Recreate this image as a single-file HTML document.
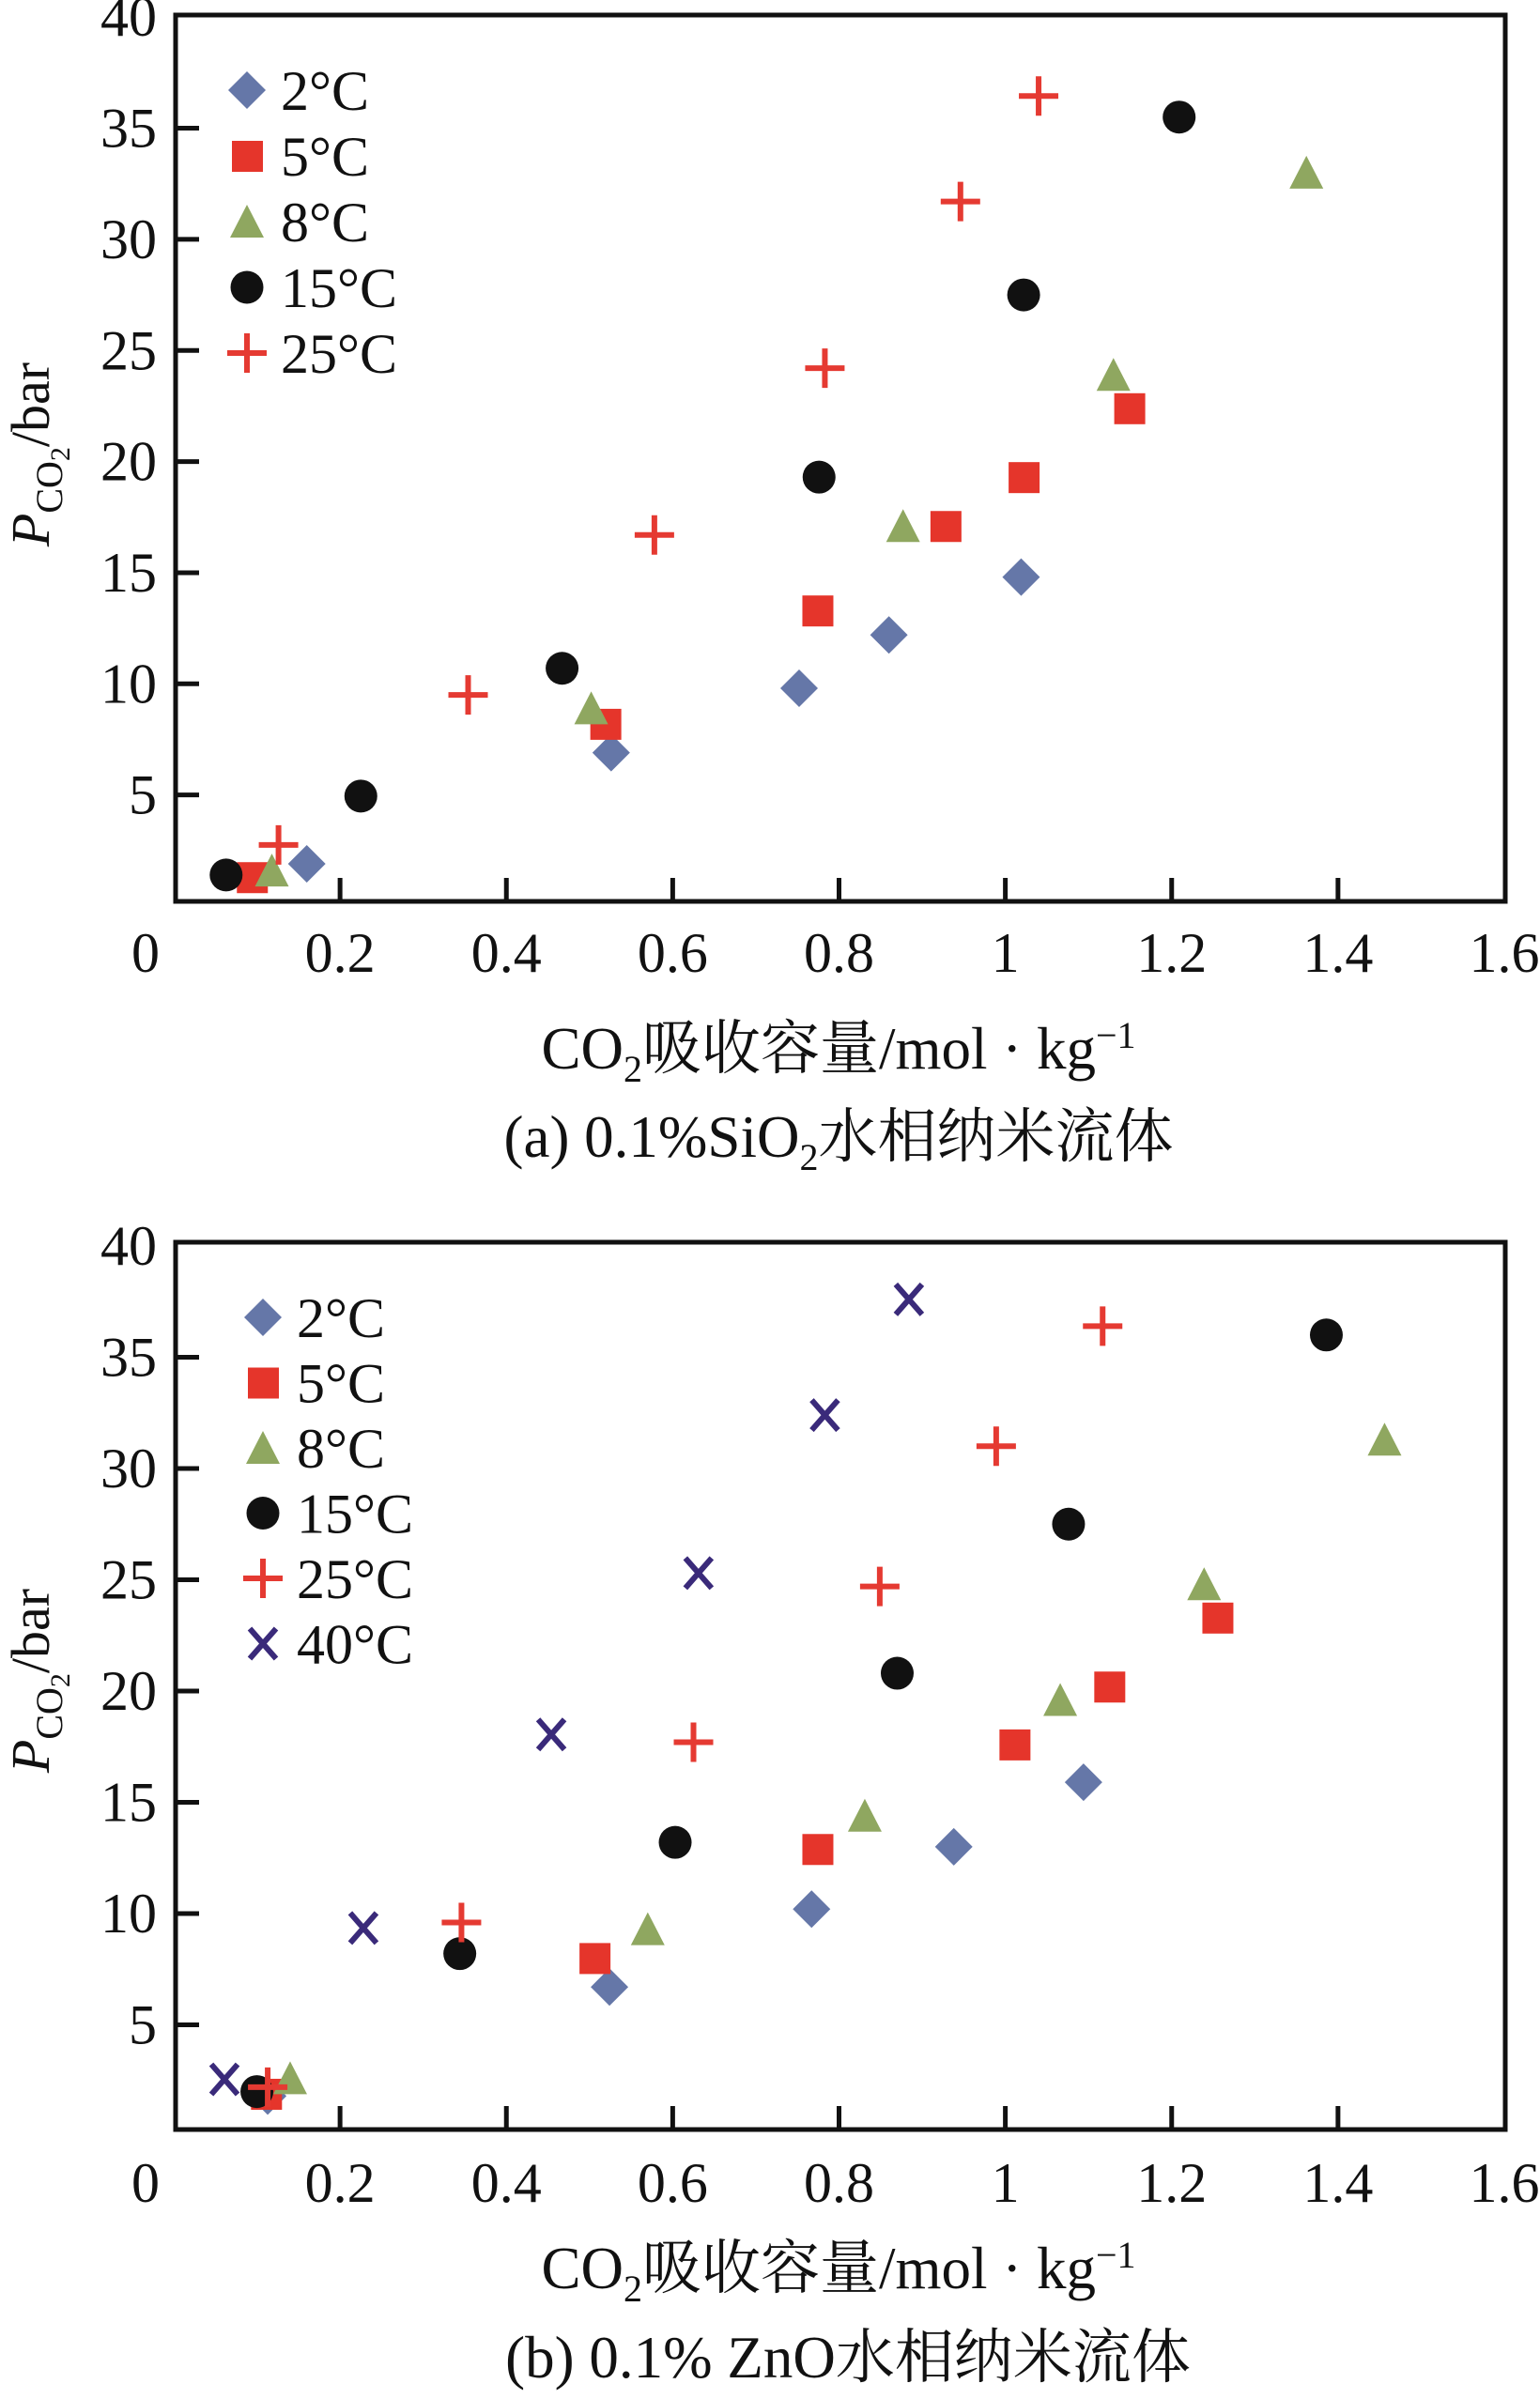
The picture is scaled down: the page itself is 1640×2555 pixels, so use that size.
<!DOCTYPE html>
<html><head><meta charset="utf-8"><style>
html,body{margin:0;padding:0;background:#fff;}
svg{display:block;}
text{font-family:"Liberation Serif","Noto Serif CJK SC","Noto Sans CJK SC",serif;fill:#111;}
</style></head><body>
<svg id="fig" width="1640" height="2555" viewBox="0 0 1640 2555" xmlns="http://www.w3.org/2000/svg"></svg>
<script>
// ---- data (x: CO2 absorption capacity mol/kg, y: P bar) ----
const seriesLabels = ["2°C","5°C","8°C","15°C","25°C","40°C"];
const xTicks = [0,0.2,0.4,0.6,0.8,1,1.2,1.4,1.6];
const xTickLabels = ["0","0.2","0.4","0.6","0.8","1","1.2","1.4","1.6"];
const yTicks = [5,10,15,20,25,30,35,40];
const yTickLabels = ["5","10","15","20","25","30","35","40"];

const a2x = [0.160,0.526,0.752,0.860,1.019];
const a2y = [1.9,6.9,9.8,12.2,14.8];
const a5x = [0.094,0.519,0.774,0.928,1.022,1.149];
const a5y = [1.3,8.2,13.3,17.1,19.3,22.4];
const a8x = [0.118,0.502,0.877,1.130,1.362];
const a8y = [1.6,8.9,17.1,23.9,33.0];
const a15x = [0.063,0.225,0.467,0.776,1.022,1.209];
const a15y = [1.4,4.95,10.7,19.3,27.5,35.5];
const a25x = [0.126,0.354,0.578,0.783,0.946,1.040];
const a25y = [2.75,9.5,16.7,24.2,31.7,36.45];

const b2x = [0.113,0.524,0.767,0.938,1.094];
const b2y = [1.8,6.7,10.2,13.0,15.9];
const b5x = [0.111,0.506,0.774,1.011,1.125,1.255];
const b5y = [1.9,8.0,12.9,17.6,20.2,23.3];
const b8x = [0.140,0.570,0.831,1.066,1.239,1.456];
const b8y = [2.6,9.3,14.4,19.6,24.8,31.3];
const b15x = [0.100,0.344,0.603,0.870,1.076,1.386];
const b15y = [2.0,8.2,13.2,20.8,27.5,36.0];
const b25x = [0.113,0.346,0.625,0.849,0.989,1.117];
const b25y = [2.2,9.6,17.7,24.7,31.0,36.4];
const b40x = [0.061,0.228,0.454,0.631,0.783,0.884];
const b40y = [2.55,9.35,18.05,25.3,32.4,37.6];

const NS="http://www.w3.org/2000/svg";
const svg=document.getElementById('fig');
function mk(tag,attrs,parent){const e=document.createElementNS(NS,tag);for(const k in attrs)e.setAttribute(k,attrs[k]);(parent||svg).appendChild(e);return e;}

const COL={dia:"#6577a8",sq:"#e5352b",tri:"#8fa760",circ:"#111111",plus:"#e53a32",x:"#3a2a7a"};

function marker(type,cx,cy,g){
  let e;
  if(type==="dia"){e=mk('polygon',{points:`${cx},${cy-20} ${cx+20},${cy} ${cx},${cy+20} ${cx-20},${cy}`,fill:COL.dia},g);}
  else if(type==="sq"){e=mk('rect',{x:cx-16,y:cy-16,width:33,height:33,fill:COL.sq},g);}
  else if(type==="tri"){e=mk('polygon',{points:`${cx},${cy-18} ${cx+18},${cy+17} ${cx-18},${cy+17}`,fill:COL.tri},g);}
  else if(type==="circ"){e=mk('circle',{cx:cx,cy:cy,r:17.5,fill:COL.circ},g);}
  else if(type==="plus"){e=mk('path',{d:`M${cx-21},${cy}H${cx+21}M${cx},${cy-21}V${cy+21}`,stroke:COL.plus,'stroke-width':6,fill:'none'},g);}
  else if(type==="x"){e=mk('path',{d:`M${cx-14},${cy-16}L${cx+14},${cy+16}M${cx+14},${cy-16}L${cx-14},${cy+16}`,stroke:COL.x,'stroke-width':6,fill:'none'},g);}
  return e;
}

function panel(p){
  const X0=185,XW=1417/1.6;
  const xs=v=>X0+v*XW;
  const ys=v=>p.y0-v*p.py;
  const g=mk('g',{});
  
  
  const fr=mk('rect',{x:187,y:p.top,width:1416,height:p.bottom-p.top,fill:'none',stroke:'#111','stroke-width':5},g);
  
  
  yTicks.forEach((v,i)=>{
    const y=ys(v);
    if(v<40){
      const t=mk('line',{x1:187,x2:212,y1:y,y2:y,stroke:'#111','stroke-width':5},g);
      
      
    }
    const lb=mk('text',{x:167,y:y+20,'text-anchor':'end','font-size':60},g);
    lb.textContent=yTickLabels[i];
    
    
  });
  xTicks.forEach((v,i)=>{
    const x=v===0?155:xs(v);
    if(v>0&&v<1.6){
      const t=mk('line',{x1:xs(v),x2:xs(v),y1:p.bottom,y2:p.bottom-25,stroke:'#111','stroke-width':5},g);
      
      
    }
    const lb=mk('text',{x:x,y:p.xlab,'text-anchor':'middle','font-size':60},g);
    lb.textContent=xTickLabels[i];
    
    
  });
  p.series.forEach((s,si)=>{
    const sg=mk('g',{},g);
    
    
    s.xs.forEach((xv,j)=>{
      const m=marker(s.type,xs(xv),ys(s.ys[j]),sg);
      
      
    });
    const ly=p.legY+si*p.legDy;
    const lg=mk('g',{},g);
    
    
    marker(s.type,p.legX,ly,lg);
    const lt=mk('text',{x:p.legX+36,y:ly+21,'font-size':60},lg);
    lt.textContent=seriesLabels[s.li];
  });
  const yt=mk('text',{transform:`translate(52,${p.yTitle}) rotate(-90)`,'text-anchor':'middle','font-size':58},g);
  
  
  yt.innerHTML='<tspan font-style="italic">P</tspan><tspan font-size="40" dy="14">CO</tspan><tspan font-size="30" dy="8">2</tspan><tspan dy="-22">/bar</tspan>';
  const xt=mk('text',{x:893,y:p.xTitle,'text-anchor':'middle','font-size':63},g);
  
  
  xt.innerHTML='CO<tspan font-size="40" dy="14">2</tspan><tspan dy="-14">吸收容量/mol · kg</tspan><tspan font-size="40" dy="-22">−1</tspan>';
  const cp=mk('text',{x:p.capX,y:p.cap,'text-anchor':'middle','font-size':63},g);
  
  
  cp.innerHTML=p.capHTML;
}

panel({name:'panel-a-sio2',top:16,bottom:960,y0:965,py:23.67,xlab:1035,
  legX:263,legY:96,legDy:70,yTitle:484,xTitle:1138,cap:1232,capX:893,
  capHTML:'(a) 0.1%SiO<tspan font-size="40" dy="14">2</tspan><tspan dy="-14">水相纳米流体</tspan>',
  series:[{key:'2c',type:'dia',xs:a2x,ys:a2y,li:0},{key:'5c',type:'sq',xs:a5x,ys:a5y,li:1},
    {key:'8c',type:'tri',xs:a8x,ys:a8y,li:2},{key:'15c',type:'circ',xs:a15x,ys:a15y,li:3},
    {key:'25c',type:'plus',xs:a25x,ys:a25y,li:4}]});
panel({name:'panel-b-zno',top:1323,bottom:2268,y0:2275,py:23.7,xlab:2345,
  legX:280,legY:1403,legDy:69.5,yTitle:1790,xTitle:2437,cap:2532,capX:903,
  capHTML:'(b) 0.1% ZnO水相纳米流体',
  series:[{key:'2c',type:'dia',xs:b2x,ys:b2y,li:0},{key:'5c',type:'sq',xs:b5x,ys:b5y,li:1},
    {key:'8c',type:'tri',xs:b8x,ys:b8y,li:2},{key:'15c',type:'circ',xs:b15x,ys:b15y,li:3},
    {key:'25c',type:'plus',xs:b25x,ys:b25y,li:4},{key:'40c',type:'x',xs:b40x,ys:b40y,li:5}]});
</script>
</body></html>
